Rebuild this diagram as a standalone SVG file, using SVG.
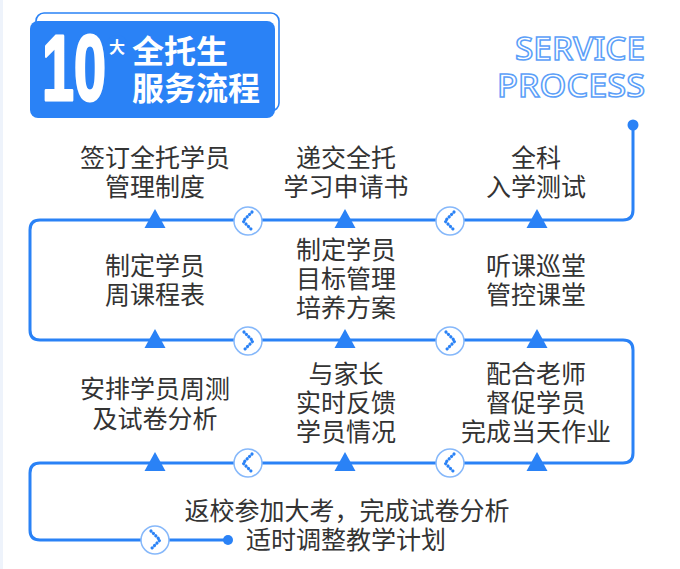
<svg xmlns="http://www.w3.org/2000/svg" width="680" height="569" viewBox="0 0 680 569">
<defs>
<style>
.ln{fill:none;stroke:#2a82f6;stroke-width:3;stroke-linejoin:round}
.tri{fill:#2a82f6}
.cc{fill:#fff;stroke:#86b8fa;stroke-width:1.5}
.ch{fill:none;stroke:#2a82f6;stroke-width:3.2;stroke-linecap:round;stroke-dasharray:0.1 3.3}
.t{font-family:"Noto Sans CJK SC","Noto Sans",sans-serif;font-size:25px;fill:#333;text-anchor:middle}
.w{font-family:"Noto Sans CJK SC","Noto Sans",sans-serif;font-weight:bold;fill:#fff}
.num{font-family:"Liberation Sans",sans-serif;font-weight:bold;fill:#fff;stroke:#fff;stroke-width:3;stroke-linejoin:round}
.en{font-family:"Noto Sans","Liberation Sans",sans-serif;font-size:32px;font-weight:500;fill:#fff;stroke:#5c9ff8;stroke-width:1.5;text-anchor:end}
</style>
<polygon id="tr" class="tri" points="0,-11 10.5,8 -10.5,8"/>
<g id="cl"><circle class="cc" r="14"/><polyline class="ch" points="4,-9 -5,0 4,9"/></g>
<g id="cr"><circle class="cc" r="14"/><polyline class="ch" points="-4,-9 5,0 -4,9"/></g>
</defs>
<rect width="680" height="569" fill="#fff"/>
<rect x="0" y="0" width="3" height="569" fill="#eef3fb"/>
<g id="title">
<rect x="36" y="13" width="243" height="98" rx="8" fill="#fff" stroke="#2a82f6" stroke-width="1.6"/>
<rect x="30" y="21" width="245" height="97" rx="8" fill="#2a82f6"/>
<text class="num" x="42" y="100" font-size="92" textLength="64" lengthAdjust="spacingAndGlyphs">10</text>
<circle cx="117" cy="46" r="11" fill="#2a82f6"/>
<text class="w" x="117" y="53" font-size="16" text-anchor="middle">大</text>
<text class="w" x="132" y="63" font-size="32">全托生</text>
<text class="w" x="132" y="100" font-size="32">服务流程</text>
</g>
<g id="subtitle">
<text class="en" x="645" y="60" textLength="130" lengthAdjust="spacingAndGlyphs">SERVICE</text>
<text class="en" x="645" y="97" textLength="148" lengthAdjust="spacingAndGlyphs">PROCESS</text>
</g>
<g id="connectors">
<circle cx="633" cy="125" r="5.5" fill="#2a82f6"/>
<path class="ln" d="M633,125 V210 Q633,220 623,220 H40 Q30,220 30,230 V330 Q30,340 40,340 H623 Q633,340 633,350 V453 Q633,463 623,463 H40 Q30,463 30,473 V530 Q30,540 40,540 H228"/>
<circle cx="228" cy="540" r="5" fill="#2a82f6"/>
<use href="#tr" x="155" y="220"/><use href="#tr" x="345" y="220"/><use href="#tr" x="537" y="220"/>
<use href="#tr" x="155" y="340"/><use href="#tr" x="345" y="340"/><use href="#tr" x="537" y="340"/>
<use href="#tr" x="155" y="463"/><use href="#tr" x="345" y="463"/><use href="#tr" x="537" y="463"/>
<use href="#cl" x="248" y="221"/><use href="#cl" x="450" y="221"/>
<use href="#cr" x="248" y="341"/><use href="#cr" x="450" y="341"/>
<use href="#cl" x="248" y="463"/><use href="#cl" x="450" y="463"/>
<use href="#cr" x="155" y="540"/>
</g>
<g id="n1"><text class="t" x="155" y="167">签订全托学员</text><text class="t" x="155" y="196">管理制度</text></g>
<g id="n2"><text class="t" x="346" y="167">递交全托</text><text class="t" x="346" y="196">学习申请书</text></g>
<g id="n3"><text class="t" x="536" y="167">全科</text><text class="t" x="536" y="196">入学测试</text></g>
<g id="n4"><text class="t" x="155" y="275">制定学员</text><text class="t" x="155" y="304">周课程表</text></g>
<g id="n5"><text class="t" x="346" y="259">制定学员</text><text class="t" x="346" y="288">目标管理</text><text class="t" x="346" y="317">培养方案</text></g>
<g id="n6"><text class="t" x="536" y="275">听课巡堂</text><text class="t" x="536" y="304">管控课堂</text></g>
<g id="n7"><text class="t" x="155" y="398">安排学员周测</text><text class="t" x="155" y="428">及试卷分析</text></g>
<g id="n8"><text class="t" x="346" y="383">与家长</text><text class="t" x="346" y="412">实时反馈</text><text class="t" x="346" y="441">学员情况</text></g>
<g id="n9"><text class="t" x="536" y="383">配合老师</text><text class="t" x="536" y="412">督促学员</text><text class="t" x="536" y="441">完成当天作业</text></g>
<g id="n10"><text class="t" x="347" y="520">返校参加大考，完成试卷分析</text><text class="t" x="346" y="549">适时调整教学计划</text></g>
</svg>
